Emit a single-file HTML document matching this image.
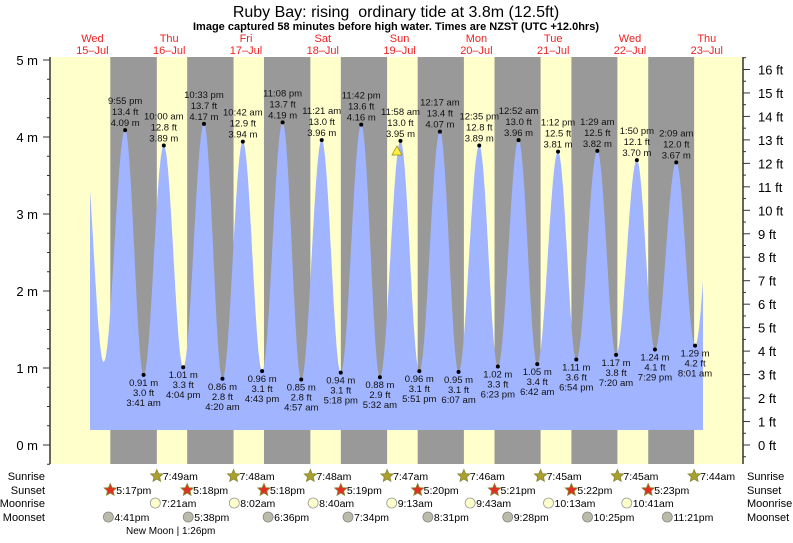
<!DOCTYPE html>
<html><head><meta charset="utf-8"><style>
body{margin:0;background:#fff;}
svg text{font-family:"Liberation Sans",sans-serif;}
</style></head><body>
<svg id="s" width="793" height="538" xmlns="http://www.w3.org/2000/svg"></svg>
<script>
const s=document.getElementById('s');let h='';
const X=t=>55+3.2*t, Y=m=>445-77*m;
const L=50,R=743,T=57,B=464;
h+=`<rect x="${L}" y="${T}" width="${R-L}" height="${B-T}" fill="#ffffcc"/>`;
const ss=[17.28,17.3,17.3,17.32,17.33,17.35,17.37,17.38];
const sr=[7.82,7.8,7.8,7.78,7.77,7.75,7.75,7.73];
for(let i=0;i<8;i++){const a=X(i*24+ss[i]),b=X((i+1)*24+sr[i]);h+=`<rect x="${a}" y="${T}" width="${b-a}" height="${B-T}" fill="#999999"/>`;}
const hm=(d,hh,mm,pm)=>d*24+(hh%12)+(pm?12:0)+mm/60;
const ex=[[9.0,3.95],[15.2,1.08],
[hm(0,9,55,1),4.09],[hm(1,3,41,0),0.91],[hm(1,10,0,0),3.89],[hm(1,4,4,1),1.01],[hm(1,10,33,1),4.17],
[hm(2,4,20,0),0.86],[hm(2,10,42,0),3.94],[hm(2,4,43,1),0.96],[hm(2,11,8,1),4.19],
[hm(3,4,57,0),0.85],[hm(3,11,21,0),3.96],[hm(3,5,18,1),0.94],[hm(3,11,42,1),4.16],
[hm(4,5,32,0),0.88],[hm(4,11,58,0),3.95],[hm(4,5,51,1),0.96],[hm(5,12,17,0),4.07],
[hm(5,6,7,0),0.95],[hm(5,12,35,1),3.89],[hm(5,6,23,1),1.02],[hm(6,12,52,0),3.96],
[hm(6,6,42,0),1.05],[hm(6,1,12,1),3.81],[hm(6,6,54,1),1.11],[hm(7,1,29,0),3.82],
[hm(7,7,20,0),1.17],[hm(7,1,50,1),3.70],[hm(7,7,29,1),1.24],[hm(8,2,9,0),3.67],
[hm(8,8,1,0),1.29],[206.5,3.95]];
function val(t){for(let i=0;i<ex.length-1;i++){const [a,va]=ex[i],[b,vb]=ex[i+1];if(t>=a&&t<=b){const f=(1-Math.cos(Math.PI*(t-a)/(b-a)))/2;return va+(vb-va)*f;}}return 2;}
const t0=(90-55)/3.2,t1=(703-55)/3.2;
let p=`M90,430`;for(let t=t0;t<=t1;t+=0.1)p+=` L${X(t).toFixed(1)},${Y(val(t)).toFixed(1)}`;
p+=` L${X(t1).toFixed(1)},${Y(val(t1)).toFixed(1)} L703,430 Z`;
h+=`<path d="${p}" fill="#a0b4ff"/>`;
const lab=[["9:55 pm","13.4 ft","4.09 m"],["0.91 m","3.0 ft","3:41 am"],["10:00 am","12.8 ft","3.89 m"],["1.01 m","3.3 ft","4:04 pm"],["10:33 pm","13.7 ft","4.17 m"],
["0.86 m","2.8 ft","4:20 am"],["10:42 am","12.9 ft","3.94 m"],["0.96 m","3.1 ft","4:43 pm"],["11:08 pm","13.7 ft","4.19 m"],
["0.85 m","2.8 ft","4:57 am"],["11:21 am","13.0 ft","3.96 m"],["0.94 m","3.1 ft","5:18 pm"],["11:42 pm","13.6 ft","4.16 m"],
["0.88 m","2.9 ft","5:32 am"],["11:58 am","13.0 ft","3.95 m"],["0.96 m","3.1 ft","5:51 pm"],["12:17 am","13.4 ft","4.07 m"],
["0.95 m","3.1 ft","6:07 am"],["12:35 pm","12.8 ft","3.89 m"],["1.02 m","3.3 ft","6:23 pm"],["12:52 am","13.0 ft","3.96 m"],
["1.05 m","3.4 ft","6:42 am"],["1:12 pm","12.5 ft","3.81 m"],["1.11 m","3.6 ft","6:54 pm"],["1:29 am","12.5 ft","3.82 m"],
["1.17 m","3.8 ft","7:20 am"],["1:50 pm","12.1 ft","3.70 m"],["1.24 m","4.1 ft","7:29 pm"],["2:09 am","12.0 ft","3.67 m"],["1.29 m","4.2 ft","8:01 am"]];
for(let i=0;i<lab.length;i++){const [t,v]=ex[i+2];const x=X(t),y=Y(v);h+=`<circle cx="${x}" cy="${y}" r="2" fill="#000"/>`;
const hi=v>2;const offs=hi?[-26,-15,-4]:[11,21,31];
for(let k=0;k<3;k++)h+=`<text x="${x}" y="${y+offs[k]}" font-size="9.5" text-anchor="middle" fill="#111">${lab[i][k]}</text>`;}
h+=`<polygon points="392,155 402,155 397,146" fill="#ffee44" stroke="#998800" stroke-width="0.7"/>`;
h+=`<line x1="${L}" y1="${T}" x2="${L}" y2="${B}" stroke="#333" stroke-width="1.5"/><line x1="${R}" y1="${T}" x2="${R}" y2="${B}" stroke="#333" stroke-width="1.5"/>`;
for(let m=0;m<=5;m++){h+=`<line x1="${L-7}" y1="${Y(m)}" x2="${L}" y2="${Y(m)}" stroke="#333"/><text x="${L-12}" y="${Y(m)+5}" font-size="13" text-anchor="end">${m} m</text>`;}
for(let m=-0.25;m<5.1;m+=0.25){h+=`<line x1="${L-3}" y1="${Y(m)}" x2="${L}" y2="${Y(m)}" stroke="#333"/>`;}
for(let f=0;f<=16;f++){const y=445-77*0.3048*f;h+=`<line x1="${R}" y1="${y}" x2="${R+7}" y2="${y}" stroke="#333"/><text x="${R+15}" y="${y+5}" font-size="13">${f} ft</text>`;
const y2=y-77*0.3048/2;if(y2>T)h+=`<line x1="${R}" y1="${y2}" x2="${R+3}" y2="${y2}" stroke="#333"/>`;}
h+=`<line x1="${R}" y1="${445+77*0.3048*0.5}" x2="${R+3}" y2="${445+77*0.3048*0.5}" stroke="#333"/>`;
h+=`<text x="396" y="17" font-size="16" text-anchor="middle" xml:space="preserve">Ruby Bay: rising  ordinary tide at 3.8m (12.5ft)</text>`;
h+=`<text x="396" y="30" font-size="11" font-weight="bold" text-anchor="middle">Image captured 58 minutes before high water. Times are NZST (UTC +12.0hrs)</text>`;
const dn=["Wed","Thu","Fri","Sat","Sun","Mon","Tue","Wed","Thu"];
for(let i=0;i<9;i++){const x=X(i*24+12)-1;h+=`<text x="${x}" y="42" font-size="11" fill="#ee2222" text-anchor="middle">${dn[i]}</text><text x="${x}" y="54" font-size="11" fill="#ee2222" text-anchor="middle">${15+i}–Jul</text>`;}
const rows=[["Sunrise",476],["Sunset",490],["Moonrise",503],["Moonset",517]];
for(const [n,y] of rows){h+=`<text x="45" y="${y+4}" font-size="11" text-anchor="end">${n}</text><text x="747" y="${y+4}" font-size="11">${n}</text>`;}
function star(x,y,fill){let pts=[];for(let k=0;k<10;k++){const r=k%2?3:6.5,a=-Math.PI/2+k*Math.PI/5;pts.push((x+r*Math.cos(a)).toFixed(1)+','+(y+r*Math.sin(a)).toFixed(1));}return `<polygon points="${pts.join(' ')}" fill="${fill}" stroke="#888833" stroke-width="0.8"/>`;}
const srt=["7:49","7:48","7:48","7:47","7:46","7:45","7:45","7:44"];
for(let i=0;i<8;i++){const x=X((i+1)*24+sr[i]);h+=star(x,476,"#aaa030")+`<text x="${x+6}" y="480" font-size="10.5">${srt[i]}am</text>`;}
const sst=["5:17","5:18","5:18","5:19","5:20","5:21","5:22","5:23"];
for(let i=0;i<8;i++){const x=X(i*24+ss[i]);h+=star(x,490,"#e03020")+`<text x="${x+6}" y="494" font-size="10.5">${sst[i]}pm</text>`;}
const mr=[["7:21am",7.35],["8:02am",8.03],["8:40am",8.67],["9:13am",9.22],["9:43am",9.72],["10:13am",10.22],["10:41am",10.68]];
for(let i=0;i<7;i++){const x=X((i+1)*24+mr[i][1]);h+=`<circle cx="${x}" cy="503" r="5" fill="#ffffcc" stroke="#999" stroke-width="0.8"/><text x="${x+6}" y="507" font-size="10.5">${mr[i][0]}</text>`;}
const ms=[["4:41pm",16.68],["5:38pm",17.63],["6:36pm",18.6],["7:34pm",19.57],["8:31pm",20.52],["9:28pm",21.47],["10:25pm",22.42],["11:21pm",23.35]];
for(let i=0;i<8;i++){const x=X(i*24+ms[i][1]);h+=`<circle cx="${x}" cy="517" r="5" fill="#bbbbaa" stroke="#888" stroke-width="0.8"/><text x="${x+6}" y="521" font-size="10.5">${ms[i][0]}</text>`;}
h+=`<text x="126" y="534" font-size="10">New Moon | 1:26pm</text>`;
s.innerHTML=h;
</script>
</body></html>
